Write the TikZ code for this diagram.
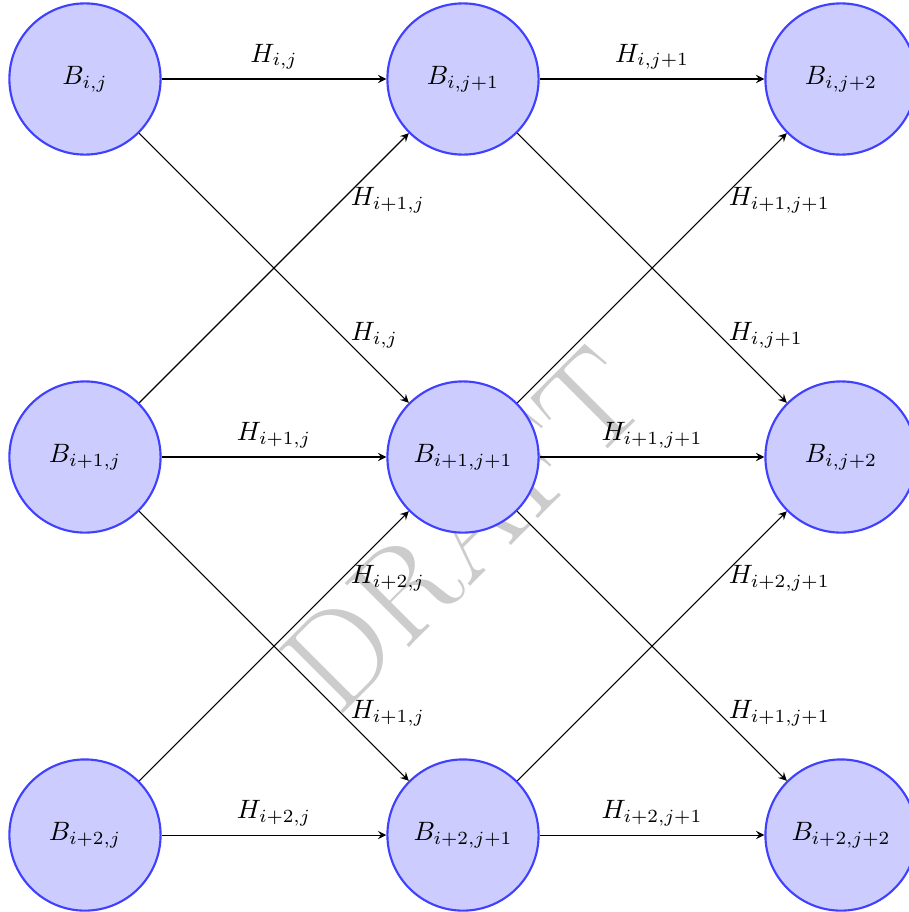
\documentclass[tikz,border=0pt]{standalone}
\usepackage{amsmath,amssymb}
\usepackage{tikz}
\usetikzlibrary{arrows.meta,positioning}
\usepackage{xcolor}

\begin{document}
\begin{tikzpicture}[on grid, node distance=5cm, >=stealth,
    bnode/.style={circle, draw=blue!75, thick, fill=blue!20, minimum size=2cm, inner sep=0pt}]
\useasboundingbox (-1.124,1.045) rectangle (10.899,-11.018);

% watermark (behind everything)
\node[rotate=45, text=black!20, font=\fontsize{50}{50}\selectfont, inner sep=0pt] (draft) at (5.0,-5.95) {DRAFT};

\node[bnode] (b00) {$B_{i,j}$};
\node[bnode, right=of b00] (b01) {$B_{i,j+1}$};
\node[bnode, right=of b01] (b02) {$B_{i,j+2}$};
\node[bnode, below=of b00] (b10) {$B_{i+1,j}$};
\node[bnode, right=of b10] (b11) {$B_{i+1,j+1}$};
\node[bnode, right=of b11] (b12) {$B_{i,j+2}$};
\node[bnode, below=of b10] (b20) {$B_{i+2,j}$};
\node[bnode, right=of b20] (b21) {$B_{i+2,j+1}$};
\node[bnode, right=of b21] (b22) {$B_{i+2,j+2}$};

% horizontal
\draw[->] (b00) -- (b01) node[midway, above] {$H_{i,j}$};
\draw[->] (b01) -- (b02) node[midway, above] {$H_{i,j+1}$};
\draw[->] (b10) -- (b11) node[midway, above] {$H_{i+1,j}$};
\draw[->] (b11) -- (b12) node[midway, above] {$H_{i+1,j+1}$};
\draw[->] (b20) -- (b21) node[midway, above] {$H_{i+2,j}$};
\draw[->] (b21) -- (b22) node[midway, above] {$H_{i+2,j+1}$};

% diagonals down
\draw[->] (b00) -- (b11) node[near end, right] {$H_{i,j}$};
\draw[->] (b01) -- (b12) node[near end, right] {$H_{i,j+1}$};
\draw[->] (b10) -- (b21) node[near end, right] {$H_{i+1,j}$};
\draw[->] (b11) -- (b22) node[near end, right] {$H_{i+1,j+1}$};

% diagonals up
\draw[->] (b10) -- (b01) node[near end, right] {$H_{i+1,j}$};
\draw[->] (b11) -- (b02) node[near end, right] {$H_{i+1,j+1}$};
\draw[->] (b20) -- (b11) node[near end, right] {$H_{i+2,j}$};
\draw[->] (b21) -- (b12) node[near end, right] {$H_{i+2,j+1}$};
\end{tikzpicture}
\end{document}
